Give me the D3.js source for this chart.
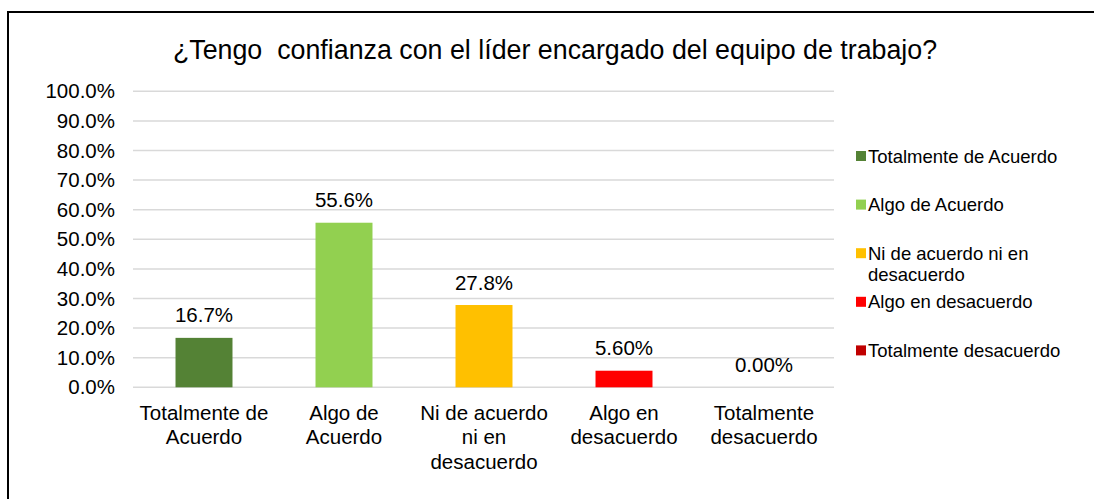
<!DOCTYPE html>
<html>
<head>
<meta charset="utf-8">
<script src="https://cdnjs.cloudflare.com/ajax/libs/d3/7.8.5/d3.min.js"></script>
<style>
  html, body { margin: 0; padding: 0; background: #fff; }
  svg { display: block; font-family: "Liberation Sans", Arial, sans-serif; }
</style>
</head>
<body>
<svg id="chart" width="1094" height="499"></svg>
<script>
const title = "¿Tengo  confianza con el líder encargado del equipo de trabajo?";
const categories = ["Totalmente de Acuerdo", "Algo de Acuerdo", "Ni de acuerdo ni en desacuerdo", "Algo en desacuerdo", "Totalmente desacuerdo"];
const axisLines = [["Totalmente de", "Acuerdo"], ["Algo de", "Acuerdo"], ["Ni de acuerdo", "ni en", "desacuerdo"], ["Algo en", "desacuerdo"], ["Totalmente", "desacuerdo"]];
const legendLines = [["Totalmente de Acuerdo"], ["Algo de Acuerdo"], ["Ni de acuerdo ni en", "desacuerdo"], ["Algo en desacuerdo"], ["Totalmente desacuerdo"]];
const values = [0.167, 0.556, 0.278, 0.056, 0.0];
const valueLabels = ["16.7%", "55.6%", "27.8%", "5.60%", "0.00%"];
const colors = ["#548235", "#92D050", "#FFC000", "#FF0000", "#C00000"];
const yTicks = [0, 0.1, 0.2, 0.3, 0.4, 0.5, 0.6, 0.7, 0.8, 0.9, 1.0];

const svg = d3.select("#chart");

// frame
svg.append("path")
  .attr("d", "M8,499 L8,12 L1094,12")
  .attr("fill", "none").attr("stroke", "#000").attr("stroke-width", 2);

// title
svg.append("text")
  .attr("x", 555).attr("y", 59)
  .attr("text-anchor", "middle")
  .attr("font-size", 26.8).attr("fill", "#000")
  .style("white-space", "pre")
  .text(title);

const x = d3.scaleBand().domain(categories).range([134, 834]).paddingInner(0.593).paddingOuter(0.2965);
const y = d3.scaleLinear().domain([0, 1]).range([387.3, 91.3]);

// gridlines
svg.append("g").selectAll("line").data(yTicks).join("line")
  .attr("x1", 133).attr("x2", 834)
  .attr("y1", d => y(d)).attr("y2", d => y(d))
  .attr("stroke", "#d9d9d9").attr("stroke-width", 1.5);

// y axis
const yAxis = svg.append("g").attr("transform", "translate(121,0)")
  .call(d3.axisLeft(y).tickValues(yTicks).tickFormat(d3.format(".1%")).tickSize(0).tickPadding(6));
yAxis.select(".domain").remove();
yAxis.selectAll("text").attr("font-size", 20.5).attr("fill", "#000")
  .attr("font-family", "Liberation Sans, Arial, sans-serif");

// bars
svg.append("g").selectAll("rect").data(categories).join("rect")
  .attr("x", d => x(d)).attr("width", x.bandwidth())
  .attr("y", (d, i) => y(values[i]))
  .attr("height", (d, i) => y(0) - y(values[i]))
  .attr("fill", (d, i) => colors[i]);

// value labels
svg.append("g").selectAll("text").data(categories).join("text")
  .attr("x", d => x(d) + x.bandwidth() / 2)
  .attr("y", (d, i) => y(values[i]) - 15.5)
  .attr("text-anchor", "middle")
  .attr("font-size", 20.5).attr("fill", "#000")
  .text((d, i) => valueLabels[i]);

// x category labels
const xl = svg.append("g").selectAll("text").data(categories).join("text")
  .attr("text-anchor", "middle")
  .attr("font-size", 20.5).attr("fill", "#000");
xl.each(function(d, i) {
  const t = d3.select(this);
  axisLines[i].forEach((ln, j) => {
    t.append("tspan").attr("x", x(d) + x.bandwidth() / 2).attr("y", 420 + j * 24.3).text(ln);
  });
});

// legend
const lg = svg.append("g");
categories.forEach((c, i) => {
  const cy = 156 + i * 48.6;
  lg.append("rect").attr("x", 856).attr("y", cy - 5).attr("width", 10).attr("height", 10).attr("fill", colors[i]);
  const t = lg.append("text").attr("font-size", 18.5).attr("fill", "#000");
  legendLines[i].forEach((ln, j) => {
    t.append("tspan").attr("x", 868).attr("y", cy + 6.5 + j * 21).text(ln);
  });
});
</script>
</body>
</html>
